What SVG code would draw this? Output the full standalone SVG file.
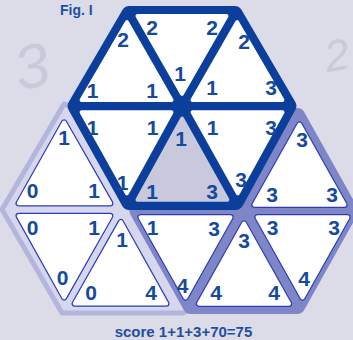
<svg xmlns="http://www.w3.org/2000/svg" width="353" height="340" viewBox="0 0 353 340">
<style>
.face{fill:#ffffff;stroke:#ffffff;stroke-width:4;stroke-linejoin:round}
.gray{fill:#c9c9dd;stroke:#c9c9dd;stroke-width:4;stroke-linejoin:round}
.edge{fill:#2a3cb8;stroke:#2a3cb8;stroke-width:6.4;stroke-linejoin:round}
.num{font-family:"Liberation Sans",Arial,sans-serif;font-weight:bold;font-size:21px;fill:#164a9c;text-anchor:middle}
.deco{font-family:"Liberation Sans",Arial,sans-serif;font-style:italic;fill:#c9c9dc}
.cap{font-family:"Liberation Sans",Arial,sans-serif;font-weight:bold;fill:#1f4f9f}
</style>
<rect width="353" height="340" fill="#dcdce9"/>
<text class="deco" x="14" y="88" font-size="62" transform="rotate(-12 30 64)">3</text>
<text class="deco" x="324" y="70" font-size="44" transform="rotate(-10 338 52)" fill="#d2d2e1">2</text>
<g id="frames">
<polygon id="board" points="78,108 64,104 2,209.5 62,313 183,313 188.5,310 133,211 127,206 71,106" fill="#d6d7ec" stroke="#b3b6dc" stroke-width="5" stroke-linejoin="round"/>
<polygon id="hex-2" points="190.8,116 297.2,116 350.4,211 297.2,306 190.8,306 137.6,211" fill="#7f86c8" stroke="#7f86c8" stroke-width="16" stroke-linejoin="round"/>
<polygon id="hex-1" points="129.3,14 234.7,14 288.4,106 235.7,202 129.3,202 75.6,106" fill="#0c3f9c" stroke="#0c3f9c" stroke-width="16" stroke-linejoin="round"/>
</g>
<g id="tile-1">
<polygon class="face" points="126.9,22.2 81.6,99.9 171.5,99.9"/>
<text class="num" x="123" y="47">2</text><text class="num" x="92.5" y="98">1</text><text class="num" x="152" y="98">1</text>
</g>
<g id="tile-2">
<polygon class="face" points="137.5,16.1 226.5,16.1 182,93.8"/>
<text class="num" x="152" y="35">2</text><text class="num" x="212" y="35">2</text><text class="num" x="180" y="81">1</text>
</g>
<g id="tile-3">
<polygon class="face" points="237.1,22.2 192.5,99.9 282.4,99.9"/>
<text class="num" x="244" y="49">2</text><text class="num" x="212" y="95">1</text><text class="num" x="271" y="95">3</text>
</g>
<g id="tile-4">
<polygon class="face" points="81.6,112.3 171.5,112.3 126.9,193.3"/>
<text class="num" x="92.5" y="135">1</text><text class="num" x="152.5" y="135">1</text><text class="num" x="122.5" y="190">1</text>
</g>
<g id="tile-5">
<polygon class="gray" points="182.1,118.7 137.5,199.7 227.4,199.7"/>
<text class="num" x="181" y="146">1</text><text class="num" x="152" y="199">1</text><text class="num" x="212" y="199">3</text>
</g>
<g id="tile-6">
<polygon class="face" points="192.6,112.3 282.5,112.3 237.9,193.3"/>
<text class="num" x="212.5" y="135">1</text><text class="num" x="271" y="135">3</text><text class="num" x="241" y="187">3</text>
</g>
<g id="tile-7">
<polygon class="edge" points="299.5,124.5 254.5,204.7 344.5,204.7"/>
<polygon class="face" points="299.5,124.5 254.5,204.7 344.5,204.7"/>
<text class="num" x="302" y="147">3</text><text class="num" x="272" y="202">3</text><text class="num" x="332" y="202">3</text>
</g>
<g id="tile-8">
<polygon class="edge" points="257.5,217.3 347.5,217.3 302.5,297.5"/>
<polygon class="face" points="257.5,217.3 347.5,217.3 302.5,297.5"/>
<text class="num" x="272.5" y="235">3</text><text class="num" x="334" y="235">3</text><text class="num" x="304" y="286">4</text>
</g>
<g id="tile-9">
<polygon class="edge" points="244,223.5 199,303.7 289,303.7"/>
<polygon class="face" points="244,223.5 199,303.7 289,303.7"/>
<text class="num" x="244" y="248">3</text><text class="num" x="216" y="300">4</text><text class="num" x="274" y="300">4</text>
</g>
<g id="tile-10">
<polygon class="edge" points="140.5,217.3 230.5,217.3 185.5,297.5"/>
<polygon class="face" points="140.5,217.3 230.5,217.3 185.5,297.5"/>
<text class="num" x="152.5" y="235">1</text><text class="num" x="214" y="236">3</text><text class="num" x="182.5" y="293">4</text>
</g>
<g id="tile-11">
<polygon class="edge" points="64.1,122.6 18.7,203.2 110.2,203.2"/>
<polygon class="face" points="64.1,122.6 18.7,203.2 110.2,203.2"/>
<text class="num" x="64" y="145">1</text><text class="num" x="32.5" y="198">0</text><text class="num" x="94" y="198">1</text>
</g>
<g id="tile-12">
<polygon class="edge" points="18.7,215.9 110.2,215.9 64.1,297.3"/>
<polygon class="face" points="18.7,215.9 110.2,215.9 64.1,297.3"/>
<text class="num" x="32.5" y="235">0</text><text class="num" x="94" y="235">1</text><text class="num" x="62.5" y="285">0</text>
</g>
<g id="tile-13">
<polygon class="edge" points="120.9,222.2 74.8,303.6 166.3,303.6"/>
<polygon class="face" points="120.9,222.2 74.8,303.6 166.3,303.6"/>
<text class="num" x="122" y="247">1</text><text class="num" x="91" y="300">0</text><text class="num" x="151" y="300">4</text>
</g>
<text class="cap" x="60" y="15" font-size="14" fill="#2b5ca5">Fig. I</text>
<text class="cap" x="183.5" y="337" font-size="15" text-anchor="middle">score 1+1+3+70=75</text>
</svg>
